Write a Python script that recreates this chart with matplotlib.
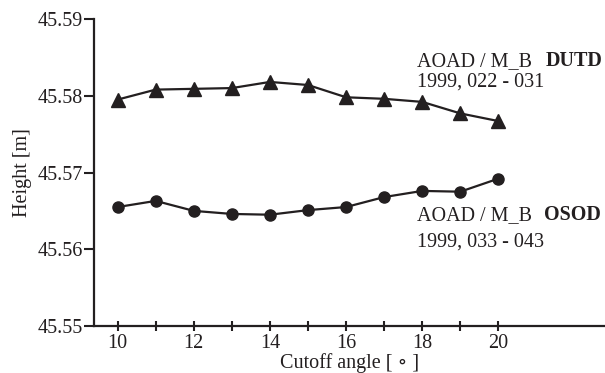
import matplotlib
matplotlib.use("Agg")
import matplotlib.pyplot as plt

plt.rcParams['font.family'] = ['Liberation Serif', 'DejaVu Serif', 'DejaVu Sans']

angles = [10, 11, 12, 13, 14, 15, 16, 17, 18, 19, 20]
dutd = [45.5795, 45.5808, 45.5809, 45.5810, 45.5818, 45.5814, 45.5798, 45.5796, 45.5792, 45.5777, 45.5767]
osod = [45.5655, 45.5663, 45.5650, 45.5646, 45.5645, 45.5651, 45.5655, 45.5668, 45.5676, 45.5675, 45.5692]
yticks = [45.55, 45.56, 45.57, 45.58, 45.59]
xticklabels = ['10', '', '12', '', '14', '', '16', '', '18', '', '20']

W, H = 605, 373
FS = 14.5
fig = plt.figure(figsize=(W / 100, H / 100), dpi=100)
ax = fig.add_axes([94 / W, (H - 326) / H, (W - 94) / W, (326 - 19) / H])

tc = '#231f20'
ax.plot(angles, dutd, color=tc, lw=1.6, marker='^', ms=9.5, zorder=3)
ax.plot(angles, osod, color=tc, lw=1.6, marker='o', ms=8, zorder=3)

ax.set_xlim(9.38, 22.8)
ax.set_ylim(45.55, 45.59)
ax.set_yticks(yticks)
ax.set_yticklabels([f'{v:.2f}' for v in yticks])
ax.set_xticks(angles)
ax.set_xticklabels(xticklabels)

for s in ['top', 'right']:
    ax.spines[s].set_visible(False)
for s in ['left', 'bottom']:
    ax.spines[s].set_linewidth(1.6)
    ax.spines[s].set_color(tc)

ax.tick_params(axis='y', direction='out', length=7, width=1.5, labelsize=FS, colors=tc, pad=1)
ax.tick_params(axis='x', direction='inout', length=7, width=1.5, labelsize=FS, colors=tc, pad=2)

ax.set_ylabel('Height [m]', fontsize=FS, color=tc, labelpad=4)
ax.set_xlabel('Cutoff angle [ \u2218 ]', fontsize=FS, color=tc, labelpad=0)

def ftext(x, y, s, **kw):
    fig.text(x / W, 1 - y / H, s, fontsize=FS, color=tc, va='baseline', **kw)

ftext(417, 66, 'AOAD / M_B')
ftext(603, 66, 'DUTD', ha='right', fontweight='bold')
ftext(417, 87, '1999, 022 - 031')
ftext(417, 220, 'AOAD / M_B')
ftext(601, 220, 'OSOD', ha='right', fontweight='bold')
ftext(417, 247, '1999, 033 - 043')

fig.savefig('out.png', dpi=100)
